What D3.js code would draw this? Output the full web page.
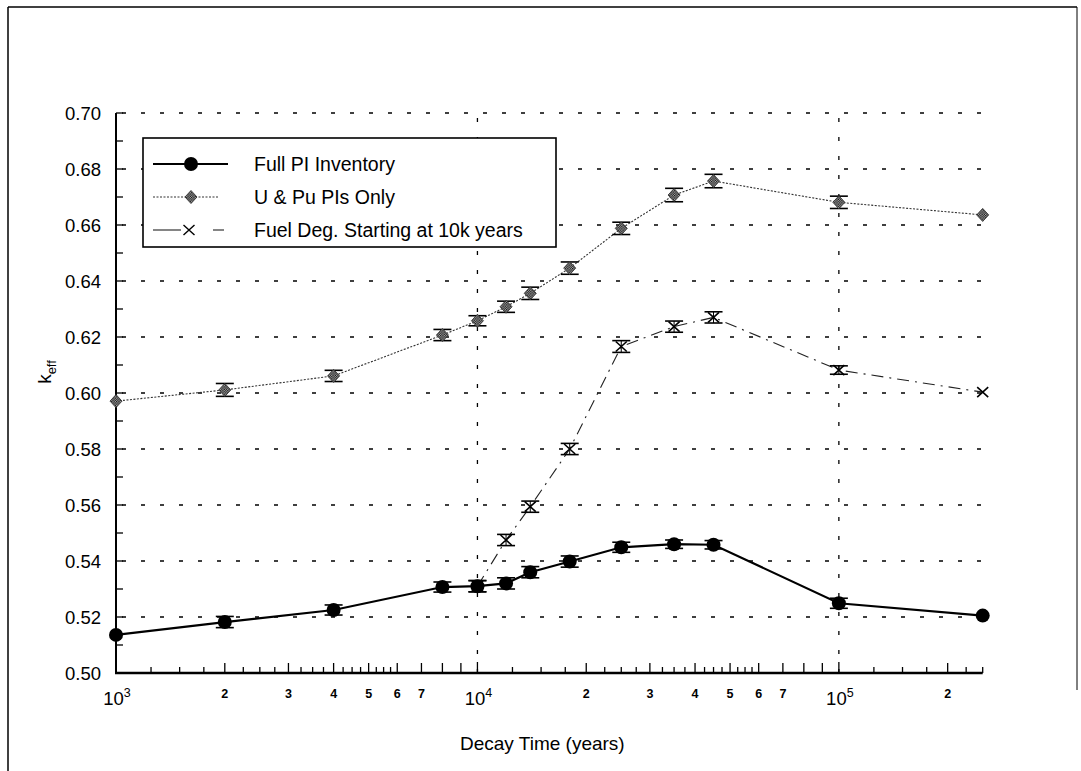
<!DOCTYPE html>
<html><head><meta charset="utf-8">
<script src="https://cdn.jsdelivr.net/npm/d3@7"></script>
<style>
body{margin:0;background:#fff}
svg{display:block}
text{font-family:"Liberation Sans",Arial,Helvetica,sans-serif;fill:#000}
</style>
</head><body><svg id="c" width="1081" height="771"></svg>
<script>
// ---------- data ----------
const years     = [1000, 2000, 4000, 8000, 10000, 12000, 14000, 18000, 25000, 35000, 45000, 100000, 250000];
const fullPI    = [0.5136, 0.5182, 0.5225, 0.5307, 0.5310, 0.5320, 0.5360, 0.5398, 0.5449, 0.5460, 0.5458, 0.5249, 0.5205];
const fullPIErr = [0, 0.0020, 0.0018, 0.0018, 0.0020, 0.0020, 0.0020, 0.0020, 0.0018, 0.0015, 0.0015, 0.0018, 0];
const uPu       = [0.5971, 0.6011, 0.6061, 0.6207, 0.6258, 0.6308, 0.6356, 0.6446, 0.6588, 0.6707, 0.6757, 0.6681, 0.6636];
const uPuErr    = [0, 0.0023, 0.0020, 0.0020, 0.0018, 0.0020, 0.0022, 0.0022, 0.0022, 0.0024, 0.0024, 0.0022, 0];
const fuelYears = [10000, 12000, 14000, 18000, 25000, 35000, 45000, 100000, 250000];
const fuelDeg   = [0.5310, 0.5475, 0.5594, 0.5800, 0.6166, 0.6237, 0.6270, 0.6082, 0.6003];
const fuelErr   = [0.0020, 0.0020, 0.0020, 0.0020, 0.0021, 0.0020, 0.0020, 0.0015, 0];
const seriesNames = ["Full PI Inventory", "U & Pu PIs Only", "Fuel Deg. Starting at 10k years"];
const yTicks = [0.50, 0.52, 0.54, 0.56, 0.58, 0.60, 0.62, 0.64, 0.66, 0.68, 0.70];
const decades = [1000, 10000, 100000];
const decadeExp = ["3", "4", "5"];
const minorMults = [1.25, 1.5, 1.75, 2, 2.25, 2.5, 2.75, 3, 3.25, 3.5, 3.75, 4, 4.25, 4.5, 4.75, 5, 5.25, 5.5, 5.75, 6, 7, 8, 9];
const labelMults = [2, 3, 4, 5, 6, 7];
const xTitle = "Decay Time (years)";

// ---------- setup ----------
const svg = d3.select("#c");
const x = d3.scaleLog().domain([1000, 250000]).range([116, 982.7]);
const y = d3.scaleLinear().domain([0.50, 0.70]).range([673, 113]);
const X0 = x.range()[0], X1 = x.range()[1], Y0 = y.range()[0], Y1 = y.range()[1];

// outer frame
svg.append("line").attr("x1", 8).attr("x2", 1077).attr("y1", 7).attr("y2", 7).attr("stroke", "#000").attr("stroke-width", 1.5);
svg.append("line").attr("x1", 8).attr("x2", 8).attr("y1", 7).attr("y2", 771).attr("stroke", "#000").attr("stroke-width", 1.5);
svg.append("line").attr("x1", 1077).attr("x2", 1077).attr("y1", 7).attr("y2", 690).attr("stroke", "#000").attr("stroke-width", 1);

// pattern for diamonds
const defs = svg.append("defs");
const pat = defs.append("pattern").attr("id", "hatch").attr("patternUnits", "userSpaceOnUse").attr("width", 2.4).attr("height", 2.4);
pat.append("rect").attr("width", 2.4).attr("height", 2.4).attr("fill", "#aaa");
pat.append("rect").attr("width", 1.2).attr("height", 1.2).attr("fill", "#111");
pat.append("rect").attr("x", 1.2).attr("y", 1.2).attr("width", 1.2).attr("height", 1.2).attr("fill", "#111");

// grid
const grid = svg.append("g").attr("stroke", "#000").attr("stroke-width", 1.3).attr("stroke-dasharray", "4,15");
grid.selectAll("line.h").data(yTicks.slice(1)).join("line")
  .attr("x1", X0 + 6).attr("x2", X1).attr("y1", d => y(d)).attr("y2", d => y(d));
grid.selectAll("line.v").data(decades.slice(1)).join("line")
  .attr("x1", d => x(d)).attr("x2", d => x(d)).attr("y1", Y0).attr("y2", Y1);

// axes lines
svg.append("line").attr("x1", X0).attr("x2", X0).attr("y1", Y0 + 1).attr("y2", Y1).attr("stroke", "#000").attr("stroke-width", 2);
svg.append("line").attr("x1", X0 - 1).attr("x2", X1).attr("y1", Y0).attr("y2", Y0).attr("stroke", "#000").attr("stroke-width", 2.5);

// y ticks (every 0.01, inward)
const yMinor = d3.range(0, 21).map(i => 0.50 + i * 0.01);
svg.append("g").selectAll("line").data(yMinor).join("line")
  .attr("x1", X0).attr("x2", X0 + 7).attr("y1", d => y(d)).attr("y2", d => y(d))
  .attr("stroke", "#000").attr("stroke-width", 1.3);
svg.append("g").selectAll("text").data(yTicks).join("text")
  .attr("x", 101).attr("y", d => y(d) + 6.5).attr("text-anchor", "end")
  .attr("font-size", 18.5).text(d => d3.format(".2f")(d));

// x ticks (inward)
const xTickData = [];
decades.forEach(dec => {
  xTickData.push({v: dec, len: 11});
  minorMults.forEach(m => {
    const v = dec * m;
    if (v <= 250000) xTickData.push({v, len: Number.isInteger(m) ? 10 : 6});
  });
});
svg.append("g").selectAll("line").data(xTickData).join("line")
  .attr("x1", d => x(d.v)).attr("x2", d => x(d.v)).attr("y1", Y0).attr("y2", d => Y0 - d.len)
  .attr("stroke", "#000").attr("stroke-width", 1.3);

// decade labels
const decG = svg.append("g").selectAll("text").data(decades).join("text")
  .attr("x", d => x(d) + 1).attr("y", 705).attr("text-anchor", "middle").attr("font-size", 18.5);
decG.append("tspan").text("10");
decG.append("tspan").attr("font-size", 12.5).attr("dy", -8).text((d, i) => decadeExp[i]);

// minor labels
const minorLabels = [];
decades.forEach(dec => labelMults.forEach(m => { if (dec * m <= 250000) minorLabels.push({v: dec * m, t: String(m)}); }));
svg.append("g").selectAll("text").data(minorLabels).join("text")
  .attr("x", d => x(d.v)).attr("y", 698).attr("text-anchor", "middle")
  .attr("font-size", 12.5).attr("font-weight", "bold").text(d => d.t);

// axis titles
svg.append("text").attr("x", (X0 + X1) / 2 - 7).attr("y", 750).attr("text-anchor", "middle")
  .attr("font-size", 19).text(xTitle);
const yt = svg.append("text").attr("transform", "translate(51,372) rotate(-90)").attr("text-anchor", "middle").attr("font-size", 19);
yt.append("tspan").text("k");
yt.append("tspan").attr("font-size", 13).attr("dy", 5).text("eff");

// ---------- series ----------
const ptsFull = years.map((t, i) => ({t, v: fullPI[i], e: fullPIErr[i]}));
const ptsU = years.map((t, i) => ({t, v: uPu[i], e: uPuErr[i]}));
const ptsF = fuelYears.map((t, i) => ({t, v: fuelDeg[i], e: fuelErr[i]}));
const line = d3.line().x(d => x(d.t)).y(d => y(d.v));

svg.append("path").datum(ptsU).attr("d", line).attr("fill", "none").attr("stroke", "#333").attr("stroke-width", 1.1).attr("stroke-dasharray", "2,1.5");
svg.append("path").datum(ptsF).attr("d", line).attr("fill", "none").attr("stroke", "#222").attr("stroke-width", 1.1).attr("stroke-dasharray", "12,6,2,6");
svg.append("path").datum(ptsFull).attr("d", line).attr("fill", "none").attr("stroke", "#000").attr("stroke-width", 2.2);

function errorBars(pts) {
  const g = svg.append("g").attr("stroke", "#000").attr("stroke-width", 1.6);
  const p = pts.filter(d => d.e > 0);
  g.selectAll("line.v").data(p).join("line")
    .attr("x1", d => x(d.t)).attr("x2", d => x(d.t)).attr("y1", d => y(d.v - d.e)).attr("y2", d => y(d.v + d.e)).attr("stroke-width", 1);
  g.selectAll("line.t").data(p).join("line")
    .attr("x1", d => x(d.t) - 9).attr("x2", d => x(d.t) + 9).attr("y1", d => y(d.v + d.e)).attr("y2", d => y(d.v + d.e));
  g.selectAll("line.b").data(p).join("line")
    .attr("x1", d => x(d.t) - 9).attr("x2", d => x(d.t) + 9).attr("y1", d => y(d.v - d.e)).attr("y2", d => y(d.v - d.e));
}
errorBars(ptsFull);
errorBars(ptsU);
errorBars(ptsF);

const diamond = "M0,-6.5L6,0L0,6.5L-6,0Z";
const cross = "M-5.5,-5L5.5,5M-5.5,5L5.5,-5";

svg.append("g").selectAll("circle").data(ptsFull).join("circle")
  .attr("cx", d => x(d.t)).attr("cy", d => y(d.v)).attr("r", 7).attr("fill", "#000");
svg.append("g").selectAll("path").data(ptsU).join("path")
  .attr("transform", d => `translate(${x(d.t)},${y(d.v)})`).attr("d", diamond)
  .attr("fill", "url(#hatch)").attr("stroke", "#333").attr("stroke-width", 0.9);
svg.append("g").selectAll("path").data(ptsF).join("path")
  .attr("transform", d => `translate(${x(d.t)},${y(d.v)})`).attr("d", cross)
  .attr("fill", "none").attr("stroke", "#000").attr("stroke-width", 1.6);

// ---------- legend ----------
const lg = svg.append("g");
lg.append("rect").attr("x", 143).attr("y", 138).attr("width", 413).attr("height", 109)
  .attr("fill", "#fff").attr("stroke", "#000").attr("stroke-width", 1.6);
const rowsY = [164, 197, 230];
lg.append("line").attr("x1", 153).attr("x2", 228).attr("y1", rowsY[0]).attr("y2", rowsY[0]).attr("stroke", "#000").attr("stroke-width", 2.2);
lg.append("circle").attr("cx", 191).attr("cy", rowsY[0]).attr("r", 7).attr("fill", "#000");
lg.append("line").attr("x1", 153).attr("x2", 218).attr("y1", rowsY[1]).attr("y2", rowsY[1]).attr("stroke", "#333").attr("stroke-width", 1.1).attr("stroke-dasharray", "2,1.5");
lg.append("path").attr("transform", `translate(191,${rowsY[1]})`).attr("d", diamond).attr("fill", "url(#hatch)").attr("stroke", "#333").attr("stroke-width", 0.9);
lg.append("line").attr("x1", 153).attr("x2", 181).attr("y1", rowsY[2]).attr("y2", rowsY[2]).attr("stroke", "#222").attr("stroke-width", 1.1);
lg.append("line").attr("x1", 213).attr("x2", 224).attr("y1", rowsY[2]).attr("y2", rowsY[2]).attr("stroke", "#222").attr("stroke-width", 1.1);
lg.append("path").attr("transform", `translate(189,${rowsY[2]})`).attr("d", cross).attr("fill", "none").attr("stroke", "#000").attr("stroke-width", 1.4);
lg.selectAll("text").data(seriesNames).join("text")
  .attr("x", 254).attr("y", (d, i) => rowsY[i] + 7).attr("font-size", 19.5).text(d => d);
</script>
</body></html>
